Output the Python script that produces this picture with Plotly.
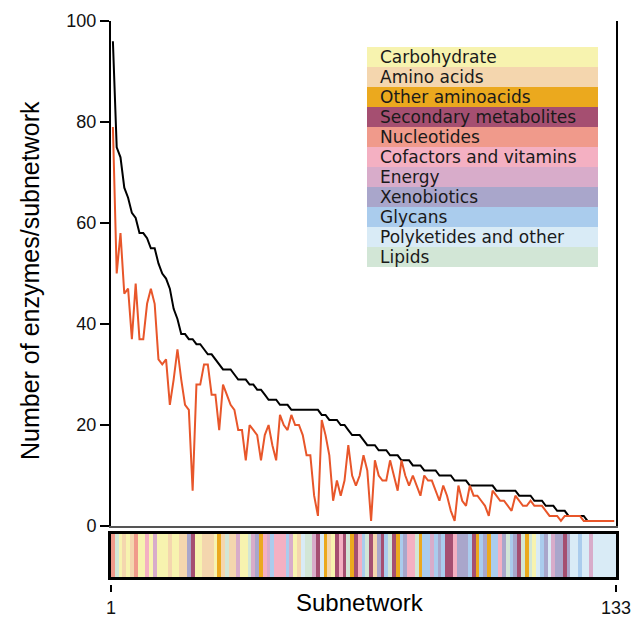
import plotly.graph_objects as go

# ---------------- data ----------------
subnetwork = list(range(1, 134))

total_enzymes = [
    96, 75, 73, 67, 65, 62, 61, 58, 58, 57, 55, 55, 52, 50, 49, 47, 43, 41, 38, 38,
    37, 37, 36, 36, 35, 34, 34, 33, 32, 31, 31, 31, 30, 29, 29, 29, 28, 28, 27, 27,
    26, 25, 25, 25, 24, 24, 24, 23, 23, 23, 23, 23, 23, 23, 23, 22, 22, 21, 21, 21,
    20, 20, 19, 18, 18, 18, 17, 16, 16, 16, 15, 15, 15, 14, 14, 14, 13, 13, 13, 12,
    12, 12, 11, 11, 11, 11, 10, 10, 10, 10, 9, 9, 9, 9, 8, 8, 8, 8, 8, 8,
    8, 7, 7, 7, 7, 7, 7, 6, 6, 6, 6, 5, 5, 5, 4, 4, 4, 3, 3, 3,
    2, 2, 2, 2, 2, 1, 1, 1, 1, 1, 1, 1, 1,
]

subset_enzymes = [
    79, 50, 58, 46, 47, 37, 48, 37, 37, 44, 47, 44, 33, 32, 33, 24, 29, 35, 29, 24,
    23, 7, 28, 28, 32, 32, 26, 26, 19, 28, 26, 24, 23, 19, 19, 13, 20, 19, 18, 13,
    18, 20, 16, 13, 22, 20, 19, 22, 20, 20, 18, 14, 14, 6, 2, 21, 18, 14, 5, 9,
    6, 9, 16, 10, 8, 10, 14, 11, 1, 13, 10, 9, 9, 13, 10, 7, 13, 10, 8, 10,
    8, 6, 10, 9, 9, 7, 5, 8, 6, 3, 1, 8, 5, 4, 8, 6, 6, 5, 4, 2,
    7, 6, 5, 5, 4, 3, 6, 5, 4, 4, 5, 4, 4, 4, 3, 2, 2, 2, 1, 2,
    2, 2, 2, 2, 1, 1, 1, 1, 1, 1, 1, 1, 1,
]

categories = [
    "Carbohydrate", "Amino acids", "Other aminoacids", "Secondary metabolites",
    "Nucleotides", "Cofactors and vitamins", "Energy", "Xenobiotics",
    "Glycans", "Polyketides and other", "Lipids",
]
category_codes = ["C", "A", "O", "S", "N", "F", "E", "X", "G", "P", "L"]
category_colors = [
    "#F7F3AF", "#F4D6AE", "#EBA91E", "#A54F71", "#F09A8B", "#F4B0C2",
    "#D8ACCA", "#A9A6CB", "#AACCED", "#D9EBF6", "#D2E6D6",
]

# pathway class of each subnetwork (same order as the curves)
strip_codes = (
    "N L C A C A N C C F C E C C C A C C A A X S C C A A A C O A "
    "L A A E C C L E X O F E G F F F G E C A P L L E S P O A C S "
    "F S L O S F G L S A X S G L S O G X F F L O G G E G X G S S "
    "F X X X G S O G X O G G F X L G X S L O L C P G X P E X X S "
    "X P P G P P E P P P P P P"
).split()

ticks_x = [1, 133]
ticks_y = [0, 20, 40, 60, 80, 100]

# ---------------- figure ----------------
W, H = 635, 617


def px(x):
    return x / W


def py(y):
    return 1 - y / H


code_index = {c: i for i, c in enumerate(category_codes)}
z_strip = [[code_index[c] for c in strip_codes]]
n = len(categories)
colorscale = []
for k, col in enumerate(category_colors):
    colorscale.append([k / n, col])
    colorscale.append([(k + 1) / n, col])

fig = go.Figure()

fig.add_trace(go.Scatter(
    x=subnetwork, y=total_enzymes, mode="lines",
    line=dict(color="#000000", width=2), showlegend=False, hoverinfo="skip",
    xaxis="x", yaxis="y",
))
fig.add_trace(go.Scatter(
    x=subnetwork, y=subset_enzymes, mode="lines",
    line=dict(color="#E8562A", width=2), showlegend=False, hoverinfo="skip",
    xaxis="x", yaxis="y",
))
fig.add_trace(go.Heatmap(
    x=subnetwork, y=[0], z=z_strip, colorscale=colorscale,
    zmin=0, zmax=n, showscale=False, hoverinfo="skip",
    xaxis="x2", yaxis="y2",
))
# invisible trace carrying the 1 / 133 tick axis
fig.add_trace(go.Scatter(
    x=ticks_x, y=[0, 0], mode="markers", marker=dict(opacity=0),
    showlegend=False, hoverinfo="skip", xaxis="x3", yaxis="y2",
))

xdom = [px(111), px(616)]
font_main = "Liberation Sans, Arial, Helvetica, sans-serif"

fig.update_layout(
    width=W, height=H,
    margin=dict(l=0, r=0, t=0, b=0, autoexpand=False),
    paper_bgcolor="white", plot_bgcolor="white",
    showlegend=False,
    font=dict(family=font_main, color="#000000"),
    xaxis=dict(
        domain=xdom, range=[0.5, 133.5], anchor="y", automargin=False,
        showticklabels=False, ticks="", showgrid=False, zeroline=False,
        showline=True, linecolor="#555555", linewidth=1.5,
    ),
    yaxis=dict(
        domain=[py(526), py(21)], range=[0, 100], anchor="x", automargin=False,
        tickvals=ticks_y, ticks="outside", ticklen=9, tickwidth=2,
        tickcolor="#000000", showline=True, linewidth=2, linecolor="#000000",
        mirror=True, showgrid=False, zeroline=False,
        tickfont=dict(size=18, family=font_main, color="#111111"),
    ),
    xaxis2=dict(
        domain=xdom, range=[0.5, 133.5], anchor="y2", automargin=False,
        showticklabels=False, ticks="", showgrid=False, zeroline=False,
        showline=True, mirror=True, linewidth=2.5, linecolor="#000000",
    ),
    yaxis2=dict(
        domain=[py(577), py(534)], range=[-0.5, 0.5], anchor="x2", automargin=False,
        showticklabels=False, ticks="", showgrid=False, zeroline=False,
        showline=True, mirror=True, linewidth=2.5, linecolor="#000000",
    ),
    xaxis3=dict(
        domain=[px(110), px(616)], range=[1, 133], overlaying="x2",
        anchor="free", position=py(584), side="bottom", automargin=False,
        tickvals=ticks_x, ticktext=[str(t) for t in ticks_x],
        ticks="outside", ticklen=7, tickwidth=2, tickcolor="#000000",
        showline=False, showgrid=False, zeroline=False,
        tickfont=dict(size=18, family=font_main, color="#111111"),
    ),
)

# axis titles
fig.add_annotation(
    text="Subnetwork", x=px(360), y=py(602), xref="paper", yref="paper",
    xanchor="center", yanchor="middle", showarrow=False,
    font=dict(size=24, family=font_main, color="#000000"),
)
fig.add_annotation(
    text="Number of enzymes/subnetwork", x=px(30), y=py(281),
    xref="paper", yref="paper", textangle=-90,
    xanchor="center", yanchor="middle", showarrow=False,
    font=dict(size=25, family=font_main, color="#000000"),
)

# category key
row_h = 20
top = 47
for k, (name, col) in enumerate(zip(categories, category_colors)):
    y0 = top + k * row_h
    fig.add_shape(
        type="rect", xref="paper", yref="paper",
        x0=px(367), x1=px(598), y0=py(y0 + row_h), y1=py(y0),
        fillcolor=col, line=dict(width=0), layer="above",
    )
    fig.add_annotation(
        text=name, x=px(378), y=py(y0 + row_h / 2), xref="paper", yref="paper",
        xanchor="left", yanchor="middle", showarrow=False,
        font=dict(size=17, family="DejaVu Sans, Verdana, sans-serif", color="#1a1a1a"),
    )

fig.write_html(
    "out.html",
    config={"displayModeBar": False},
    post_script="document.body.style.margin='0';document.body.style.overflow='hidden';",
)
